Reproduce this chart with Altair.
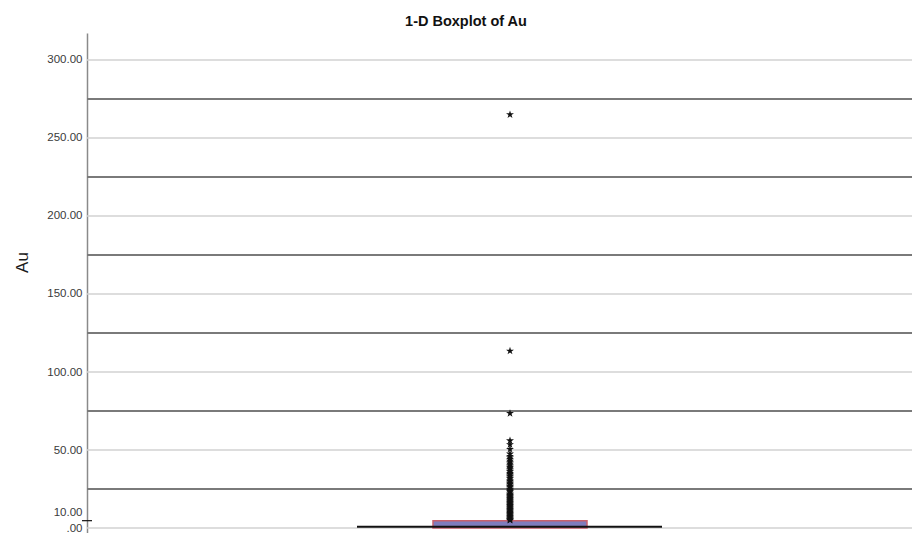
import altair as alt
import pandas as pd

# ---- data ----
light_grid = [0, 50, 100, 150, 200, 250, 300]
dark_grid = [25, 75, 125, 175, 225, 275]
tick_values = [0, 10, 50, 100, 150, 200, 250, 300]
q1_val, median_val, q3_val = 0.0, 0.8, 4.7
axis_mark_val = 4.7
outliers = [265, 113.5, 73.5, 56, 53.5, 50.5, 47.5, 46, 45, 44, 43, 42, 41, 40,
            39, 38.5, 37.5, 36.5, 36, 35, 34.5, 33.5, 33, 32, 31.5, 30.5, 30,
            29, 28.5, 28, 27, 26.5, 26, 25, 24.5, 24, 23.5, 23, 22, 21.5, 21,
            20.5, 20, 19.5, 19, 18.5, 18, 17.5, 17, 16.5, 16, 15.5, 15, 14.5,
            14, 13.5, 13, 12.5, 12, 11.5, 11, 10.5, 10, 9.5, 9, 8.5, 8, 7.5,
            7, 6.5, 6, 5.5, 5.2, 5]

W, H = 825, 500
Y_DOMAIN = [-3.2, 317.3]
CX = 423  # centre of the box in view pixels

yscale = alt.Scale(domain=Y_DOMAIN, nice=False, zero=False)

grid_df = pd.DataFrame({"v": light_grid + dark_grid,
                        "kind": ["light"] * len(light_grid) + ["dark"] * len(dark_grid)})
box_df = pd.DataFrame({"q1": [q1_val], "q3": [q3_val], "med": [median_val]})
out_df = pd.DataFrame({"Au": outliers})
mark_df = pd.DataFrame({"v": [axis_mark_val]})

axis_y = alt.Axis(
    values=tick_values,
    labelExpr="datum.value == 0 ? '.00' : format(datum.value, '.2f')",
    ticks=False, grid=False,
    domainColor="#8a8a8a", domainWidth=1.5,
    labelFont="Liberation Sans", labelFontSize=11.5, labelColor="#3a3a3a",
    labelPadding=5,
    title="Au", titleFont="Liberation Sans", titleFontSize=17,
    titleFontWeight="normal", titleColor="#1a1a1a",
    titleX=-65, titleY=229, titleAngle=270, titleAlign="center",
    titleBaseline="middle",
)

light = alt.Chart(grid_df).transform_filter("datum.kind == 'light'").mark_rule(
    color="#d2d2d2", strokeWidth=1.5
).encode(y=alt.Y("v:Q", scale=yscale, axis=axis_y), x=alt.value(0), x2=alt.value(W))

dark = alt.Chart(grid_df).transform_filter("datum.kind == 'dark'").mark_rule(
    color="#7a7a7a", strokeWidth=2
).encode(y=alt.Y("v:Q", scale=yscale), x=alt.value(0), x2=alt.value(W))

axis_mark = alt.Chart(mark_df).mark_rule(color="#111111", strokeWidth=1.2).encode(
    y=alt.Y("v:Q", scale=yscale), x=alt.value(-5), x2=alt.value(5))

box = alt.Chart(box_df).mark_rect(
    fill="#7f7cbd", stroke="#c8606c", strokeWidth=1.5
).encode(y=alt.Y("q1:Q", scale=yscale), y2="q3:Q",
         x=alt.value(CX - 77), x2=alt.value(CX + 77))

med = alt.Chart(box_df).mark_rule(color="#111111", strokeWidth=2).encode(
    y=alt.Y("med:Q", scale=yscale), x=alt.value(CX - 153), x2=alt.value(CX + 152))

star_path = ("M0,-1L0.2245,-0.309L0.951,-0.309L0.363,0.118L0.588,0.809L0,0.382"
             "L-0.588,0.809L-0.363,0.118L-0.951,-0.309L-0.2245,-0.309Z")
stars = alt.Chart(out_df).mark_point(
    shape=star_path, filled=True, color="#111111", size=70, opacity=1
).encode(y=alt.Y("Au:Q", scale=yscale), x=alt.value(CX))

title = alt.Chart(pd.DataFrame({"t": ["1-D Boxplot of Au"]})).mark_text(
    font="Liberation Sans", fontSize=14.5, fontWeight="bold", color="#111111",
    align="center", baseline="alphabetic"
).encode(text="t:N", x=alt.value(379), y=alt.value(-7))

chart = alt.layer(light, dark, axis_mark, box, med, stars, title).properties(
    width=W, height=H,
    padding={"left": 79, "top": 25, "right": 0, "bottom": 0},
    autosize=alt.AutoSizeParams(type="none"),
    background="white",
).configure_view(stroke=None)

chart.save("out.html", embed_options={"renderer": "svg", "actions": False})
